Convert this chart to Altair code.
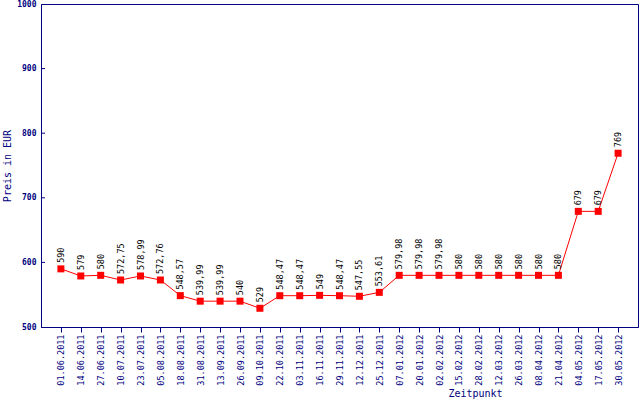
import altair as alt
import pandas as pd

dates = ["01.06.2011", "14.06.2011", "27.06.2011", "10.07.2011", "23.07.2011",
         "05.08.2011", "18.08.2011", "31.08.2011", "13.09.2011", "26.09.2011",
         "09.10.2011", "22.10.2011", "03.11.2011", "16.11.2011", "29.11.2011",
         "12.12.2011", "25.12.2011", "07.01.2012", "20.01.2012", "02.02.2012",
         "15.02.2012", "28.02.2012", "12.03.2012", "26.03.2012", "08.04.2012",
         "21.04.2012", "04.05.2012", "17.05.2012", "30.05.2012"]
prices = [590, 579, 580, 572.75, 578.99, 572.76, 548.57, 539.99, 539.99, 540,
          529, 548.47, 548.47, 549, 548.47, 547.55, 553.61, 579.98, 579.98, 579.98,
          580, 580, 580, 580, 580, 580, 679, 679, 769]
y_ticks = [600, 700, 800, 900]


def fmt(v):
    if float(v).is_integer():
        return str(int(v))
    return f"{v:.2f}".replace(".", ",")


df = pd.DataFrame({"date": dates, "price": prices, "label": [fmt(v) for v in prices]})
ticks_df = pd.DataFrame({"t": y_ticks})

NAVY = "#000080"
MONO = "DejaVu Sans Mono"

xenc = alt.X("date:N", sort=dates, scale=alt.Scale(type="point", padding=1),
             axis=alt.Axis(title="Zeitpunkt", labelAngle=270, labelAlign="right",
                           labelBaseline="middle", labelPadding=2, tickSize=5,
                           labelFont=MONO, labelFontSize=8.5, labelColor=NAVY,
                           titleFont=MONO, titleFontSize=10, titleFontWeight="normal",
                           titleColor=NAVY, titleX=434, titleY=66,
                           titleAlign="center", titleBaseline="middle",
                           domainColor=NAVY, tickColor=NAVY, labelOverlap=False))
yscale = alt.Scale(domain=[500, 1000], nice=False, zero=False)
yenc = alt.Y("price:Q", scale=yscale,
             axis=alt.Axis(title="Preis in EUR", values=[500, 600, 700, 800, 900, 1000],
                           format="d", ticks=False, labelPadding=5, labelFont=MONO,
                           labelFontSize=8, labelFontWeight="bold", labelColor=NAVY,
                           titleFont=MONO, titleFontSize=10, titleFontWeight="normal",
                           titleColor=NAVY, titleX=-34, titleY=161.5, titleAngle=270,
                           titleAlign="center", titleBaseline="middle",
                           domainColor=NAVY, grid=False))

base = alt.Chart(df).encode(x=xenc, y=yenc)
line = base.mark_line(color="#ff0000", strokeWidth=1)
pts = base.mark_square(color="#ff0000", size=49, opacity=1)
txt = base.mark_text(angle=270, align="left", baseline="middle", dx=6,
                     font=MONO, fontSize=8.5, color="black").encode(text="label:N")

yt = alt.Chart(ticks_df).mark_rule(color=NAVY, strokeWidth=1).encode(
    y=alt.Y("t:Q", scale=yscale), x=alt.value(0), x2=alt.value(4))

chart = alt.layer(yt, line, pts, txt).properties(
    width=597, height=323,
    autosize=alt.AutoSizeParams(type="none"),
    padding={"left": 41, "top": 4, "right": 2, "bottom": 73},
    background="white",
).configure_view(stroke=NAVY, strokeWidth=1).configure_axis(grid=False)

chart.save("out.html", embed_options={"renderer": "svg", "actions": False})
